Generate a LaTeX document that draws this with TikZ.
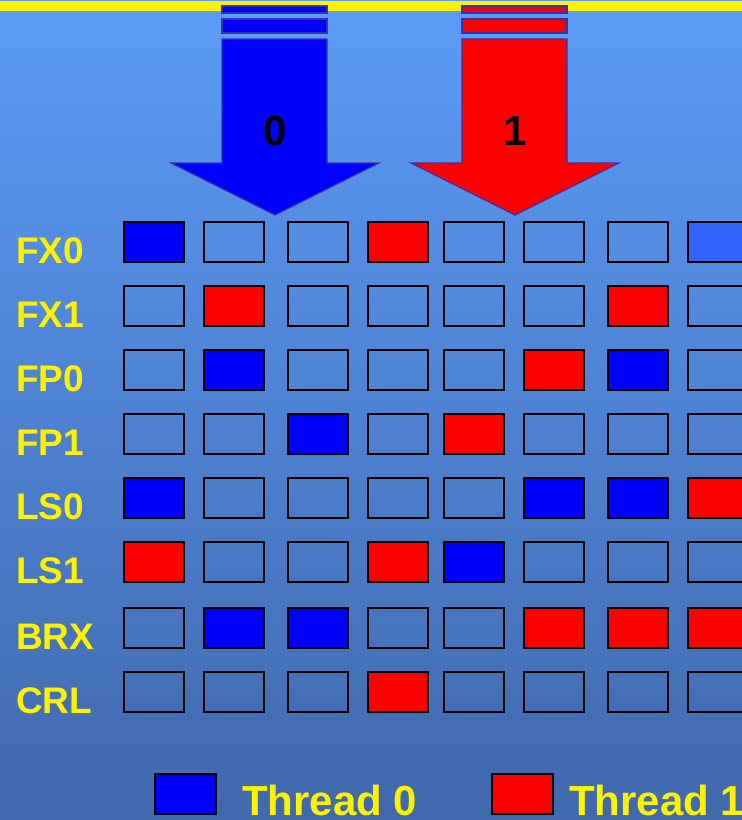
\documentclass[tikz,border=0pt]{standalone}
\usepackage{fontspec}
\setmainfont{Liberation Sans}
\definecolor{bgtop}{RGB}{92,156,248}
\definecolor{bgbot}{RGB}{64,104,172}
\definecolor{t0}{RGB}{0,0,255}
\definecolor{t1}{RGB}{255,0,0}
\definecolor{lb}{RGB}{51,102,255}
\definecolor{rim}{RGB}{51,51,170}
\begin{document}
\begin{tikzpicture}[x=1pt,y=-1pt,
    cell/.style={draw=black,line width=1.6pt,minimum width=60,minimum height=40,inner sep=0pt,anchor=north west},
    unit/.style={text=yellow,font=\bfseries\fontsize{37}{40}\selectfont,anchor=base west,inner sep=0pt},
    key/.style={text=yellow,font=\bfseries\fontsize{42}{44}\selectfont,anchor=base west,inner sep=0pt},
    pipe/.style={draw=rim,line width=1.2pt}]
    \useasboundingbox (0,0) rectangle (742,820);
    \clip (0,0) rectangle (742,820);
    \shade[top color=bgtop, bottom color=bgbot] (0,0) rectangle (742,820);
    \fill[yellow] (0,1) rectangle (742,11);
    \foreach \xc/\col/\num in {275/t0/0, 515/t1/1} {
        \draw[pipe,fill=\col] (\xc-53,6) rectangle (\xc+52,13);
        \draw[pipe,fill=\col] (\xc-53,19) rectangle (\xc+52,33);
        \draw[pipe,fill=\col] (\xc-53,39) -- (\xc+52,39) -- (\xc+52,163) -- (\xc+104,163)
            -- (\xc,215) -- (\xc-104,163) -- (\xc-53,163) -- cycle;
        \node[font=\bfseries\fontsize{42}{44}\selectfont,inner sep=0pt] (thr\num) at (\xc,131) {\num};
    }
    \def\colx{{123,203,287,367,443,523,607,687}}
    \foreach \name/\yy/\cells in {
        FX0/221/{t0,none,none,t1,none,none,none,lb},
        FX1/285/{none,t1,none,none,none,none,t1,none},
        FP0/349/{none,t0,none,none,none,t1,t0,none},
        FP1/413/{none,none,t0,none,t1,none,none,none},
        LS0/477/{t0,none,none,none,none,t0,t0,t1},
        LS1/541/{t1,none,none,t1,t0,none,none,none},
        BRX/607/{none,t0,t0,none,none,t1,t1,t1},
        CRL/671/{none,none,none,t1,none,none,none,none}} {
        \node[unit] (\name) at (16,\yy+42) {\name};
        \foreach \c [count=\i from 0] in \cells {
            \pgfmathsetmacro{\xx}{\colx[\i]}
            \node[cell,fill=\c] (\name-\i) at (\xx,\yy) {};
        }
    }
    \node[cell,fill=t0,minimum width=61] (key0) at (154,773) {};
    \node[key] (txt0) at (242,815) {Thread 0};
    \node[cell,fill=t1,minimum width=61] (key1) at (491,773) {};
    \node[key] (txt1) at (569,815) {Thread 1};
\end{tikzpicture}
\end{document}
